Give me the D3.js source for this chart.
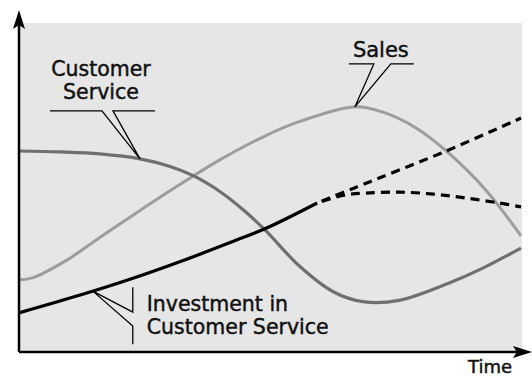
<!DOCTYPE html>
<html>
<head>
<meta charset="utf-8">
<script src="https://cdn.jsdelivr.net/npm/d3@7"></script>
<style>
    body { margin: 0; background: #fff; }
    text { font-family: "DejaVu Sans", sans-serif; fill: #111; stroke: #111; stroke-width: 0.45; }
</style>
</head>
<body>
<script>
// values, time and level both on a 0-100 scale
var customerService = [
    [0, 61.1], [8.2, 60.8], [16.1, 60.2], [24.1, 58.7], [30.1, 56.4], [34.7, 53.6],
    [40.0, 48.8], [45.0, 42.8], [49.2, 36.8], [55.8, 26.2], [62.5, 18.4], [68.5, 15.3],
    [75.7, 15.7], [85.7, 21.0], [92.4, 25.5], [100, 31.6]
];
var sales = [
    [0, 21.9], [2.8, 22.6], [9.6, 28.0], [16.1, 34.8], [22.7, 41.6], [30.7, 49.6],
    [40.0, 58.4], [49.2, 65.8], [55.8, 70.0], [66.7, 74.5], [72.5, 72.9], [79.1, 68.1],
    [85.1, 61.1], [93.0, 49.2], [100, 35.3]
];
var investment = [
    [0, 11.9], [12.2, 17.3], [22.7, 22.4], [32.7, 27.8], [42.6, 33.6], [49.2, 37.6], [59.4, 45.3]
];
var investmentHigh = [[59.4, 45.3], [66.7, 49.8], [85.1, 61.1], [100, 71.1]];
var investmentLow = [
    [59.4, 45.3], [64.5, 47.6], [69.1, 48.3], [75.7, 48.6], [82.5, 48.0], [89.0, 46.8],
    [95.6, 45.3], [100, 44.1]
];

var labelCustomer = ["Customer", "Service"];
var labelSales = ["Sales"];
var labelInvestment = ["Investment in", "Customer Service"];
var axisLabel = "Time";

// where the callouts touch the curves
var anchorCustomer = [24.1, 58.7];
var anchorSales = [66.9, 74.5];
var anchorInvestment = [14.7, 18.5];

var width = 532, height = 379;
var plot = {left: 19, right: 522, top: 23, bottom: 352};

var svg = d3.select("body").append("svg")
    .attr("width", width)
    .attr("height", height);

var x = d3.scaleLinear().domain([0, 100]).range([plot.left, plot.right - 1]);
var y = d3.scaleLinear().domain([0, 100]).range([plot.bottom, plot.top]);

svg.append("rect")
    .attr("x", x(0)).attr("y", y(100))
    .attr("width", plot.right - plot.left)
    .attr("height", y(0) - y(100))
    .attr("fill", "#e6e6e6");

var line = d3.line()
    .x(function(d) { return x(d[0]); })
    .y(function(d) { return y(d[1]); })
    .curve(d3.curveCatmullRom.alpha(0.5));

svg.append("path").datum(sales)
    .attr("d", line).attr("fill", "none")
    .attr("stroke", "#9d9d9d").attr("stroke-width", 3);

svg.append("path").datum(customerService)
    .attr("d", line).attr("fill", "none")
    .attr("stroke", "#6f6f6f").attr("stroke-width", 3.2);

svg.append("path").datum(investment)
    .attr("d", line).attr("fill", "none")
    .attr("stroke", "#000").attr("stroke-width", 3.2);

[investmentHigh, investmentLow].forEach(function(d) {
    svg.append("path").datum(d)
        .attr("d", line).attr("fill", "none")
        .attr("stroke", "#000").attr("stroke-width", 3.2)
        .attr("stroke-dasharray", "9,6")
        .attr("stroke-dashoffset", -5);
});

// axes: plain lines with arrow heads, no ticks
svg.append("line")
    .attr("x1", x(0)).attr("y1", y(0))
    .attr("x2", x(0)).attr("y2", 20)
    .attr("stroke", "#000").attr("stroke-width", 2.5);
svg.append("line")
    .attr("x1", x(0)).attr("y1", y(0))
    .attr("x2", 522).attr("y2", y(0))
    .attr("stroke", "#000").attr("stroke-width", 2.5);

var ax = x(0), ay = y(0);
svg.append("path")
    .attr("d", "M" + ax + ",10L" + (ax - 6) + ",29L" + ax + ",25L" + (ax + 6) + ",29Z")
    .attr("fill", "#000");
svg.append("path")
    .attr("d", "M532," + ay + "L513," + (ay - 6) + "L517," + ay + "L513," + (ay + 6) + "Z")
    .attr("fill", "#000");

svg.append("text")
    .attr("x", 512).attr("y", 373)
    .attr("text-anchor", "end")
    .attr("font-size", 18)
    .text(axisLabel);

// callouts, drawn in pixel offsets from their anchor point
function callout(anchor, segs, lines, tx, ty, lh, anchorText, size) {
    var px = x(anchor[0]), py = y(anchor[1]);
    segs.forEach(function(s) {
        svg.append("path")
            .attr("d", d3.line()(s.map(function(p) { return [px + p[0], py + p[1]]; })))
            .attr("fill", "none")
            .attr("stroke", "#000")
            .attr("stroke-width", 1.3);
    });
    lines.forEach(function(t, i) {
        svg.append("text")
            .attr("x", px + tx)
            .attr("y", py + ty + i * lh)
            .attr("text-anchor", anchorText)
            .attr("font-size", size)
            .text(t);
    });
}

callout(anchorCustomer,
    [[[-90, -48], [-38, -48], [0, 0], [-27, -48], [15, -48]]],
    labelCustomer, -39, -83, 23, "middle", 20.5);

callout(anchorSales,
    [[[-6, -43], [19, -43], [0, 0], [36, -43], [59, -43]]],
    labelSales, 26, -50, 23, "middle", 21);

callout(anchorInvestment,
    [[[40, -4], [40, 21], [0, 0], [40, 35], [40, 53]]],
    labelInvestment, 54, 20, 23, "start", 20.5);
</script>
</body>
</html>
